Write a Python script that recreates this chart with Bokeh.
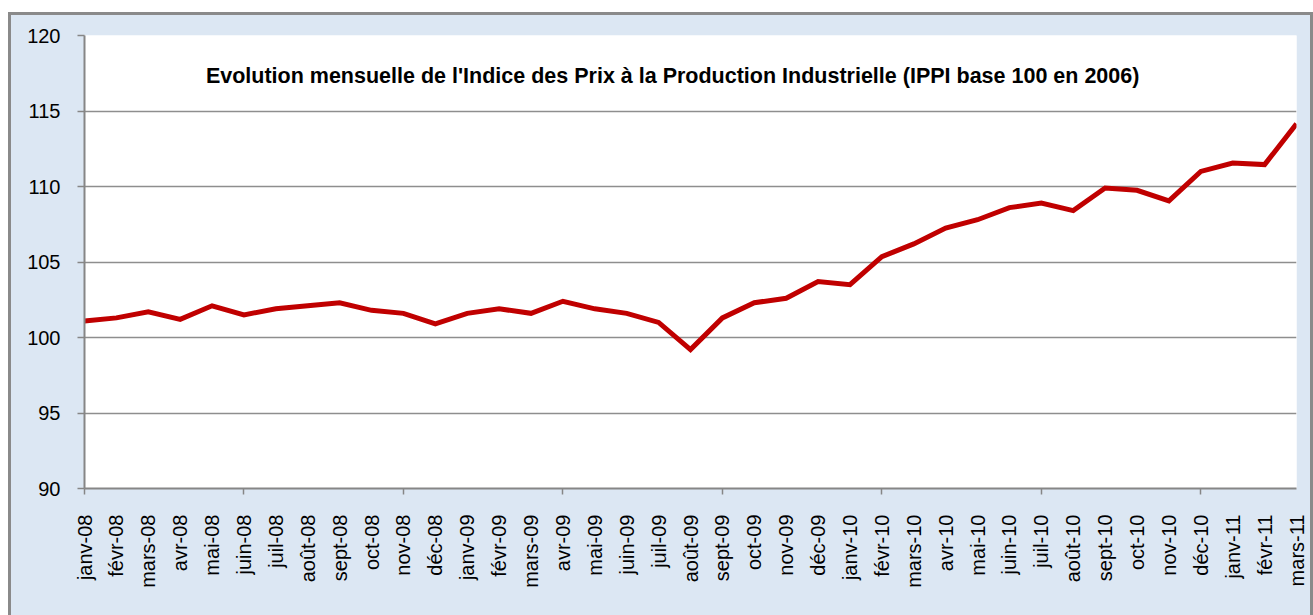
import math
from bokeh.plotting import figure
from bokeh.models import Range1d, FixedTicker, Label, ColumnDataSource, InlineStyleSheet
from bokeh.embed import file_html
from bokeh.resources import INLINE

# ---- data ----
months = [
    "janv-08", "févr-08", "mars-08", "avr-08", "mai-08", "juin-08", "juil-08", "août-08",
    "sept-08", "oct-08", "nov-08", "déc-08",
    "janv-09", "févr-09", "mars-09", "avr-09", "mai-09", "juin-09", "juil-09", "août-09",
    "sept-09", "oct-09", "nov-09", "déc-09",
    "janv-10", "févr-10", "mars-10", "avr-10", "mai-10", "juin-10", "juil-10", "août-10",
    "sept-10", "oct-10", "nov-10", "déc-10",
    "janv-11", "févr-11", "mars-11",
]
ippi = [
    101.1, 101.3, 101.7, 101.2, 102.1, 101.5, 101.9, 102.1, 102.3, 101.8, 101.6, 100.9,
    101.6, 101.9, 101.6, 102.4, 101.9, 101.6, 101.0, 99.2, 101.3, 102.3, 102.6, 103.7,
    103.5, 105.35, 106.2, 107.25, 107.8, 108.6, 108.9, 108.4, 109.9, 109.75, 109.05, 111.0,
    111.55, 111.45, 114.15,
]
y_ticks = [90, 95, 100, 105, 110, 115, 120]
title_text = "Evolution mensuelle de l'Indice des Prix à la Production Industrielle (IPPI base 100 en 2006)"

FONT = "Liberation Sans"
GRAY = "#868686"

idx = list(range(len(months)))
src = ColumnDataSource(data=dict(x=idx, y=ippi))

p = figure(
    width=1313, height=615,
    output_backend="svg", toolbar_location=None,
    x_range=Range1d(0, len(months) - 1),
    y_range=Range1d(y_ticks[0], y_ticks[-1]),
    min_border_left=84, min_border_right=17, min_border_top=35, min_border_bottom=127,
)
p.border_fill_color = "#dce7f3"
p.background_fill_color = "white"
p.outline_line_color = None

# chart-area frame: white margin outside, gray border (CSS overlay)
p.stylesheets = [InlineStyleSheet(css="""
:host { position: relative; }
:host::before {
  content: ""; position: absolute; left: 0; top: 0; right: 0; bottom: 0;
  border-top: 12px solid white; border-left: 8px solid white;
  box-sizing: border-box; pointer-events: none; z-index: 90;
}
:host::after {
  content: ""; position: absolute; left: 8px; top: 12px; right: 0; bottom: -20px;
  border: 3px solid #8a8a8a; box-sizing: border-box;
  pointer-events: none; z-index: 91;
}
""")]

# grid
p.xgrid.grid_line_color = None
p.ygrid.grid_line_color = "#8e8e8e"
p.ygrid.grid_line_width = 1.5

# y axis
p.yaxis.ticker = FixedTicker(ticks=y_ticks)
p.yaxis.axis_line_color = GRAY
p.yaxis.axis_line_width = 2
p.yaxis.major_tick_line_color = GRAY
p.yaxis.major_tick_line_width = 1.5
p.yaxis.major_tick_out = 7
p.yaxis.major_tick_in = 0
p.yaxis.minor_tick_line_color = None
p.yaxis.major_label_standoff = 17
p.yaxis.major_label_text_font = FONT
p.yaxis.major_label_text_font_size = "20px"
p.yaxis.major_label_text_color = "black"

# x axis: label every month, tick mark every 5 months
p.xaxis.ticker = FixedTicker(ticks=idx, minor_ticks=idx[::5])
p.xaxis.major_label_overrides = {i: m for i, m in zip(idx, months)}
p.xaxis.major_label_orientation = math.pi / 2
p.xaxis.axis_line_color = GRAY
p.xaxis.axis_line_width = 2
p.xaxis.major_tick_line_color = None
p.xaxis.major_tick_out = 0
p.xaxis.major_tick_in = 0
p.xaxis.minor_tick_line_color = GRAY
p.xaxis.minor_tick_line_width = 1.5
p.xaxis.minor_tick_out = 6
p.xaxis.minor_tick_in = 0
p.xaxis.major_label_standoff = 20
p.xaxis.major_label_text_font = FONT
p.xaxis.major_label_text_font_size = "20px"
p.xaxis.major_label_text_color = "black"

# series
p.line("x", "y", source=src, line_color="#c00000", line_width=5, line_join="miter")

# title inside plot area
p.add_layout(Label(
    x=18.44, y=117.34, text=title_text,
    text_align="center", text_baseline="alphabetic",
    text_font=FONT, text_font_size="21.5px", text_font_style="bold", text_color="black",
))

open("out.html", "w").write(file_html(p, INLINE))
